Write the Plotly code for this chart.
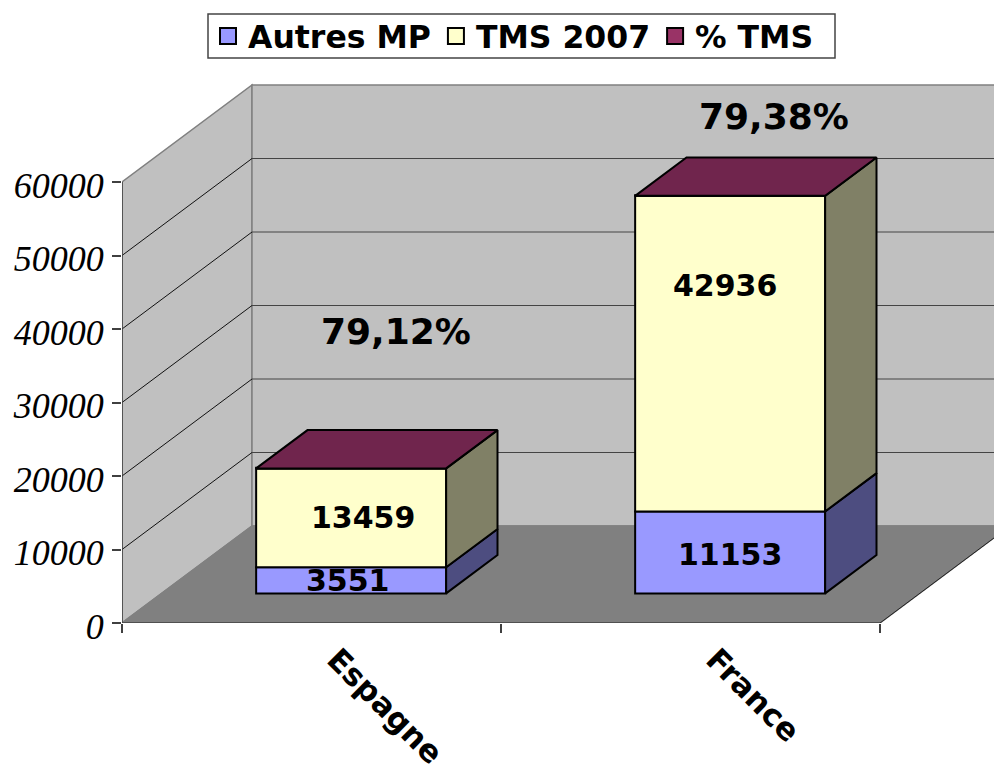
import plotly.graph_objects as go

categories = ["Espagne", "France"]
autres_mp = [3551, 11153]
tms_2007 = [13459, 42936]
pct_tms = [79.12, 79.38]
pct_labels = ["79,12%", "79,38%"]
y_ticks = [0, 10000, 20000, 30000, 40000, 50000, 60000]

W, H = 994, 776
X0, Y0 = 122, 623
PX_X = 379.0       # px per category
PX_Y = 441 / 60000 # px per value unit
DEPTH_X = 130 / PX_X
DEPTH_Y = 97 / PX_Y
BAR_W = 190 / PX_X
D_FRONT, D_BACK = 0.305, 0.70
FONT = "DejaVu Sans"
BLACK = "#000000"
EDGE = 2
COL_A, COL_T, COL_P = "#9999ff", "#ffffcc", "#993366"


def proj(x, y, d):
    return x + d * DEPTH_X, y + d * DEPTH_Y


def box_faces(xc, lo, hi, color_side):
    xr = xc + BAR_W / 2
    pts = [proj(xr, lo, D_FRONT), proj(xr, lo, D_BACK), proj(xr, hi, D_BACK), proj(xr, hi, D_FRONT), proj(xr, lo, D_FRONT)]
    return go.Scatter(x=[p[0] for p in pts], y=[p[1] for p in pts], mode="lines", fill="toself",
                      fillcolor=color_side, line=dict(color=BLACK, width=EDGE), showlegend=False, hoverinfo="skip")


fig = go.Figure()
centers = [i + 0.5 for i in range(len(categories))]
front_x = [proj(c, 0, D_FRONT)[0] for c in centers]
base_off = proj(0, 0, D_FRONT)[1]

series = [("Autres MP", autres_mp, COL_A, "#4d4d80"),
          ("TMS 2007", tms_2007, COL_T, "#808066")]
cum = [0, 0]
for name, vals, col, side in series:
    fig.add_trace(go.Bar(x=front_x, y=vals, base=[base_off + c for c in cum], width=BAR_W, name=name, showlegend=False,
                         marker=dict(color=col, line=dict(color=BLACK, width=EDGE)), hoverinfo="skip"))
    for c, lo, v in zip(centers, cum, vals):
        fig.add_trace(box_faces(c, lo, lo + v, side))
    cum = [a + b for a, b in zip(cum, vals)]

# third series: thin top slab, seen only through its top face
fig.add_trace(go.Bar(x=front_x, y=pct_tms, base=[base_off + c for c in cum], width=BAR_W, name="% TMS", showlegend=False,
                     marker=dict(color=COL_P, line=dict(color=BLACK, width=EDGE)), hoverinfo="skip"))
for c, top in zip(centers, cum):
    xl, xr = c - BAR_W / 2, c + BAR_W / 2
    pts = [proj(xl, top, D_FRONT), proj(xr, top, D_FRONT), proj(xr, top, D_BACK), proj(xl, top, D_BACK), proj(xl, top, D_FRONT)]
    fig.add_trace(go.Scatter(x=[p[0] for p in pts], y=[p[1] for p in pts], mode="lines", fill="toself",
                             fillcolor="#70254d", line=dict(color=BLACK, width=EDGE), showlegend=False, hoverinfo="skip"))

# legend keys (square swatches larger than a bar trace's own legend key)
for name, col in [("Autres MP", COL_A), ("TMS 2007", COL_T), ("% TMS", COL_P)]:
    fig.add_trace(go.Scatter(x=[None], y=[None], mode="markers", name=name,
                             marker=dict(symbol="square", size=18, color=col, line=dict(color=BLACK, width=2))))

# walls, floor and grid
ymax = y_ticks[-1]
xend = len(categories)
shapes = []


def poly(pts, fill, line, w=1.5):
    path = "M " + " L ".join(f"{x},{y}" for x, y in pts) + " Z"
    shapes.append(dict(type="path", path=path, xref="x", yref="y", fillcolor=fill, layer="below",
                       line=dict(color=line, width=w)))


poly([proj(0, 0, 0), proj(0, 0, 1), proj(0, ymax, 1), proj(0, ymax, 0)], "#c0c0c0", "#808080")
poly([proj(0, 0, 1), proj(xend, 0, 1), proj(xend, ymax, 1), proj(0, ymax, 1)], "#c0c0c0", "#808080")
poly([proj(0, 0, 0), proj(xend, 0, 0), proj(xend, 0, 1), proj(0, 0, 1)], "#808080", "#808080")
for t in y_ticks[1:-1]:
    a, b, c = proj(0, t, 0), proj(0, t, 1), proj(xend, t, 1)
    shapes.append(dict(type="line", x0=a[0], y0=a[1], x1=b[0], y1=b[1], layer="below", line=dict(color="#111111", width=1)))
    shapes.append(dict(type="line", x0=b[0], y0=b[1], x1=c[0], y1=c[1], layer="below", line=dict(color="#444444", width=1)))
shapes.append(dict(type="line", x0=0, y0=0, x1=0, y1=ymax, line=dict(color="#404040", width=1.5)))
shapes.append(dict(type="line", x0=0, y0=0, x1=xend, y1=0, line=dict(color="#404040", width=1.5)))
shapes.append(dict(type="line", x0=xend, y0=0, x1=proj(xend, 0, 1)[0], y1=proj(xend, 0, 1)[1], line=dict(color="#222222", width=1)))
# legend frame
shapes.append(dict(type="rect", xref="paper", yref="paper", x0=(208 - X0) / (W - X0), x1=(835 - X0) / (W - X0),
                   y0=1 - 58 / Y0, y1=1 - 14 / Y0, fillcolor="white", line=dict(color="#444444", width=1.5)))

# labels
annots = []
for i, (fx, a, t) in enumerate(zip(front_x, autres_mp, tms_2007)):
    shifts_a = [(-3, 0), (0, -2)][i]
    shifts_t = [(12, 0), (-5, 68)][i]
    annots.append(dict(x=fx, y=base_off + a / 2, text=str(a), showarrow=False, xshift=shifts_a[0], yshift=shifts_a[1],
                       font=dict(family=FONT, size=30, color=BLACK, weight="bold")))
    annots.append(dict(x=fx, y=base_off + a + t / 2, text=str(t), showarrow=False, xshift=shifts_t[0], yshift=shifts_t[1],
                       font=dict(family=FONT, size=30, color=BLACK, weight="bold")))
pct_shift = [(45, 137), (44, 79)]
for i, (fx, a, t) in enumerate(zip(front_x, autres_mp, tms_2007)):
    annots.append(dict(x=fx, y=base_off + a + t, text=pct_labels[i], showarrow=False, xshift=pct_shift[i][0], yshift=pct_shift[i][1],
                       font=dict(family=FONT, size=36, color=BLACK, weight="bold")))

fig.update_layout(
    width=W, height=H, margin=dict(l=X0, r=0, t=0, b=H - Y0, autoexpand=False), paper_bgcolor="white", plot_bgcolor="white",
    barmode="overlay", shapes=shapes, annotations=annots, autosize=False,
    legend=dict(orientation="h", x=(208 - X0) / (W - X0), y=1 - 9 / Y0, xanchor="left", yanchor="top",
                bgcolor="rgba(0,0,0,0)", borderwidth=0, itemsizing="trace",
                font=dict(family=FONT, size=31.5, color=BLACK, weight="bold"), itemwidth=30, tracegroupgap=0),
    xaxis=dict(range=[0, (W - X0) / PX_X], tickmode="array", tickvals=[c + 0.065 for c in centers], ticktext=categories, tickangle=45,
               ticks="", showgrid=False, zeroline=False, showline=False, ticklabelstandoff=11, automargin=False,
               tickfont=dict(family=FONT, size=31, color=BLACK, weight="bold"),
               minor=dict(tickmode="array", tickvals=list(range(len(categories) + 1)), ticks="outside", ticklen=9,
                          tickcolor="#404040", tickwidth=1.5, showgrid=False)),
    yaxis=dict(range=[0, Y0 / PX_Y], tickmode="array", tickvals=y_ticks, ticktext=[f"<i>{t}</i>" for t in y_ticks],
               ticks="outside", ticklen=9, tickcolor="#404040", tickwidth=1.5, automargin=False,
               showgrid=False, zeroline=False, showline=False, ticklabelstandoff=1, ticklabelshift=3,
               tickfont=dict(family="Liberation Serif", size=36, color=BLACK)),
)
fig.write_html("out.html", config=dict(displayModeBar=False),
               post_script="document.body.style.margin='0';document.body.style.overflow='hidden';")
